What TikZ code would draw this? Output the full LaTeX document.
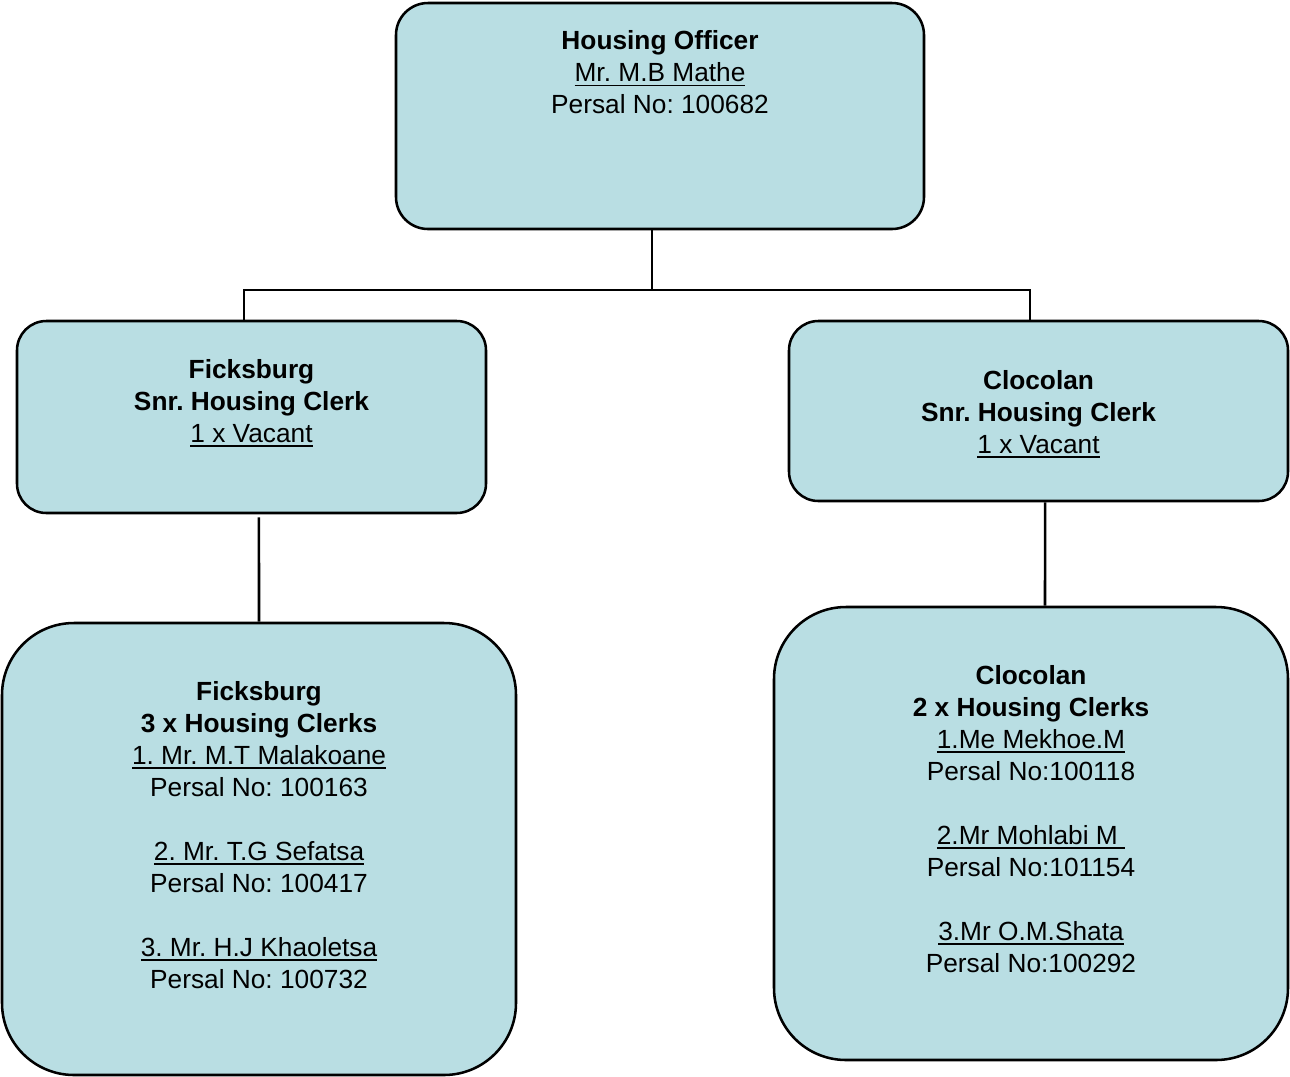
\documentclass[tikz,border=0pt]{standalone}
\usepackage{fontspec}
\setmainfont{Liberation Sans}
\usepackage{tikz}
\usetikzlibrary{positioning}

\definecolor{boxblue}{RGB}{185,222,227}
% underline a bit lower and thicker than \underline
\newcommand{\undl}[1]{\setbox0=\hbox{#1}\rlap{\rule[-3.4pt]{\wd0}{1pt}}\box0}
\frenchspacing

\begin{document}
\begin{tikzpicture}[x=0.75pt,y=0.75pt,
		post/.style={draw=black,line width=1.9pt,fill=boxblue,rounded corners=24pt,inner sep=0pt},
		small post/.style={post,rounded corners=22pt},
		big post/.style={post,rounded corners=54pt},
		txt/.style={align=center,inner sep=0pt,font=\fontsize{19.7}{24}\selectfont},
		link/.style={line width=1.9pt}
	]
	\useasboundingbox (0,0) rectangle (1290,-1076);

	% boxes
	\node[post,minimum width=396pt,minimum height=169.5pt] (officer) at (660,-116) {};
	\node[small post,minimum width=351.75pt,minimum height=144pt] (fsnr) at (251.5,-417) {};
	\node[small post,minimum width=374.25pt,minimum height=135pt] (csnr) at (1038.5,-411) {};
	\node[big post,minimum width=385.5pt,minimum height=339pt] (fclerks) at (259,-849) {};
	\node[big post,minimum width=385.5pt,minimum height=339.75pt] (cclerks) at (1031,-833.5) {};

	% texts
	\node[txt,below=21.5pt of officer.north] (officertxt)
		{\textbf{Housing Officer}\\ \undl{Mr. M.B Mathe}\\ Persal No: 100682};
	\node[txt,below=29.25pt of fsnr.north] (fsnrtxt)
		{\textbf{Ficksburg}\\ \textbf{Snr. Housing Clerk}\\ \undl{1 x Vacant}};
	\node[txt,below=37.5pt of csnr.north] (csnrtxt)
		{\textbf{Clocolan}\\ \textbf{Snr. Housing Clerk}\\ \undl{1 x Vacant}};
	\node[txt,below=44.25pt of fclerks.north] (fclerkstxt)
		{\textbf{Ficksburg}\\ \textbf{3 x Housing Clerks}\\ \undl{1. Mr. M.T Malakoane}\\ Persal No: 100163\\[24pt]
		 \undl{2. Mr. T.G Sefatsa}\\ Persal No: 100417\\[24pt]
		 \undl{3. Mr. H.J Khaoletsa}\\ Persal No: 100732};
	\node[txt,below=44.25pt of cclerks.north] (cclerkstxt)
		{\textbf{Clocolan}\\ \textbf{2 x Housing Clerks}\\ \undl{1.Me Mekhoe.M}\\ Persal No:100118\\[24pt]
		 \undl{2.Mr Mohlabi M\ }\\ Persal No:101154\\[24pt]
		 \undl{3.Mr O.M.Shata}\\ Persal No:100292};

	% connectors
	\coordinate (bus) at (652,-290);
	\draw[link] ([xshift=-6pt]officer.south) -- (bus);
	\draw[link] ([xshift=-5.6pt]fsnr.north) |- (bus) -| ([xshift=-6.4pt]csnr.north);
	\draw[link] ([xshift=5.6pt,yshift=-2.25pt]fsnr.south) -- (fclerks.north);
	\draw[link] ([xshift=4.9pt]csnr.south) -- ([xshift=10.5pt]cclerks.north);

\end{tikzpicture}
\end{document}
